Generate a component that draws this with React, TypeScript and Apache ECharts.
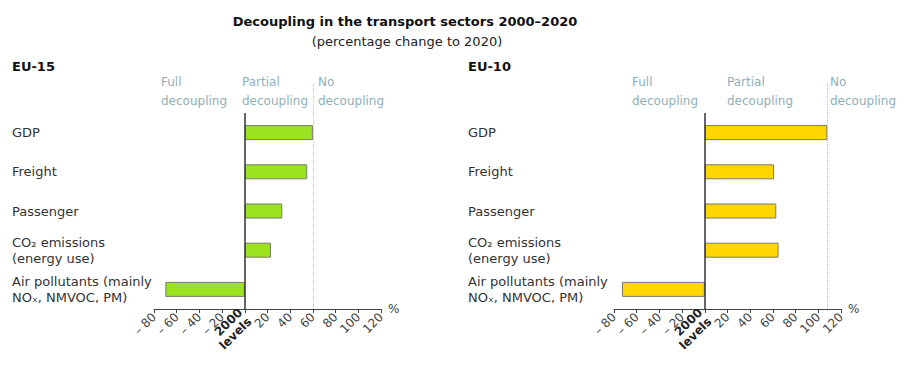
import React, { useEffect, useRef } from "react";
import * as echarts from "echarts";

const categories = [
  "GDP",
  "Freight",
  "Passenger",
  "CO₂ emissions\n(energy use)",
  "Air pollutants (mainly\nNOₓ, NMVOC, PM)",
];
const eu15Values = [60, 55, 33, 23, -70];
const eu10Values = [108, 61, 63, 65, -73];
const xTicks = { min: -80, max: 120, interval: 20 };
const panelTitles = ["EU-15", "EU-10"];
const zoneLabels = ["Full\ndecoupling", "Partial\ndecoupling", "No\ndecoupling"];

const FONT = "DejaVu Sans";

export default function App() {
  const ref = useRef<HTMLDivElement>(null);
  useEffect(() => {
    if (!ref.current) return;
    const chart = echarts.init(ref.current, undefined, { renderer: "svg" });
    const panels = [
      { left: 154, values: eu15Values, color: "#9be31f", labelX: 12, zones: [161, 242, 318] },
      { left: 614, values: eu10Values, color: "#ffd700", labelX: 468, zones: [632, 727, 830] },
    ];
    const grids: any[] = [];
    const xAxes: any[] = [];
    const yAxes: any[] = [];
    const series: any[] = [];
    panels.forEach((p) => {
      grids.push({ left: p.left, width: 227, top: 113, height: 196 });
      xAxes.push({
        type: "value",
        gridIndex: grids.length - 1,
        min: xTicks.min,
        max: xTicks.max,
        interval: xTicks.interval,
        splitLine: { show: false },
        axisLine: { show: true, lineStyle: { color: "#444", width: 1 } },
        axisTick: { show: true, length: 4, lineStyle: { color: "#444" } },
        name: "%",
        nameLocation: "end",
        nameGap: 6,
        nameTextStyle: {
          fontFamily: FONT,
          fontSize: 12,
          color: "#444",
          verticalAlign: "middle",
          padding: [0, 0, 4, 0],
        },
        axisLabel: {
          rotate: 45,
          fontFamily: FONT,
          fontSize: 12,
          color: "#444",
          margin: 6,
          formatter: (v: number) =>
            v === 0 ? "{b|2000}\n{b|levels}" : v < 0 ? "– " + -v : String(v),
          rich: {
            b: { fontFamily: FONT, fontSize: 12, fontWeight: "bold", color: "#222", lineHeight: 13 },
          },
        },
      });
      yAxes.push({
        type: "category",
        gridIndex: grids.length - 1,
        data: categories,
        inverse: true,
        axisLine: { show: false },
        axisTick: { show: false },
        axisLabel: {
          align: "left",
          margin: p.left - p.labelX,
          fontFamily: FONT,
          fontSize: 13,
          color: "#333",
          lineHeight: 16,
        },
      });
      series.push({
        type: "bar",
        xAxisIndex: xAxes.length - 1,
        yAxisIndex: yAxes.length - 1,
        data: p.values,
        barWidth: 15,
        itemStyle: { color: p.color, borderColor: "#7a7a70", borderWidth: 1 },
        markLine: {
          silent: true,
          symbol: "none",
          label: { show: false },
          lineStyle: { color: "#333", width: 1.5, type: "solid" },
          data: [{ xAxis: 0 }],
        },
        z: 3,
      });
      grids.push({ left: p.left, width: 227, top: 84, height: 225 });
      xAxes.push({
        type: "value",
        gridIndex: grids.length - 1,
        min: xTicks.min,
        max: xTicks.max,
        show: false,
      });
      yAxes.push({ type: "value", gridIndex: grids.length - 1, min: 0, max: 1, show: false });
      series.push({
        type: "line",
        xAxisIndex: xAxes.length - 1,
        yAxisIndex: yAxes.length - 1,
        data: [[p.values[0], 0]],
        symbol: "none",
        lineStyle: { opacity: 0 },
        markLine: {
          silent: true,
          symbol: "none",
          label: { show: false },
          lineStyle: { color: "#bbbbbb", width: 1, type: "dotted" },
          data: [{ xAxis: p.values[0] }],
        },
        z: 1,
      });
    });

    const graphics: any[] = [
      {
        type: "text",
        x: 405,
        y: 21,
        style: {
          text: "Decoupling in the transport sectors 2000–2020",
          fontFamily: FONT,
          fontSize: 13,
          fontWeight: "bold",
          fill: "#111",
          align: "center",
          verticalAlign: "middle",
        },
      },
      {
        type: "text",
        x: 407,
        y: 41,
        style: {
          text: "(percentage change to 2020)",
          fontFamily: FONT,
          fontSize: 13,
          fill: "#222",
          align: "center",
          verticalAlign: "middle",
        },
      },
    ];
    panels.forEach((p, i) => {
      graphics.push({
        type: "text",
        x: p.labelX,
        y: 66,
        style: {
          text: panelTitles[i],
          fontFamily: FONT,
          fontSize: 13,
          fontWeight: "bold",
          fill: "#111",
          align: "left",
          verticalAlign: "middle",
        },
      });
      p.zones.forEach((zx, j) => {
        graphics.push({
          type: "text",
          x: zx,
          y: 72,
          style: {
            text: zoneLabels[j],
            fontFamily: FONT,
            fontSize: 12,
            lineHeight: 19,
            fill: "#8fb0b8",
            align: "left",
            verticalAlign: "top",
          },
        });
      });
    });

    chart.setOption({
      animation: false,
      grid: grids,
      xAxis: xAxes,
      yAxis: yAxes,
      series,
      graphic: graphics,
    });
    return () => chart.dispose();
  }, []);
  return (
    <div
      ref={ref}
      style={{ position: "absolute", left: 0, top: 0, width: 904, height: 365, background: "#fff" }}
    />
  );
}
